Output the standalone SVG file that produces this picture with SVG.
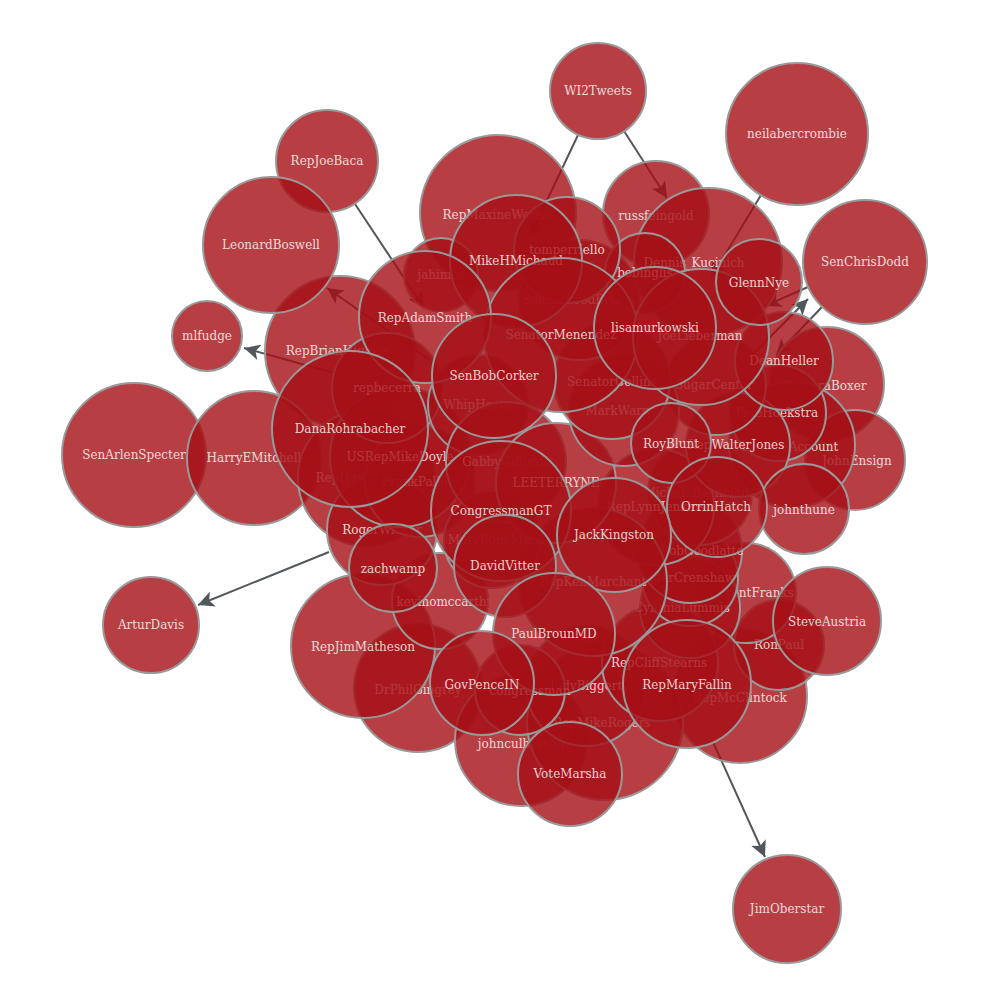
<svg xmlns="http://www.w3.org/2000/svg" width="1000" height="1000" viewBox="0 0 1000 1000">
<defs>
<style>
.node circle{fill:#a50f15;fill-opacity:.8;stroke:#999;stroke-width:2}
.node text{font-family:"DejaVu Serif",serif;font-size:12px;fill:#fff;fill-opacity:.8;text-anchor:middle}
.link{stroke:#52575b;stroke-width:2;fill:none;marker-end:url(#arrow)}
</style>
<marker id="arrow" viewBox="0 -5 10 10" refX="10" refY="0" markerWidth="8" markerHeight="8" orient="auto">
<path d="M0,-5L10,0L0,5L2.5,0Z" fill="#52575b"/>
</marker>
</defs>
<rect width="1000" height="1000" fill="#fff"/>
<g id="links">
<line class="link" x1="624" y1="131" x2="667" y2="198"/>
<line class="link" x1="578" y1="135" x2="530" y2="236"/>
<line class="link" x1="761" y1="195" x2="711" y2="278"/>
<line class="link" x1="752" y1="355" x2="808" y2="299"/>
<line class="link" x1="808" y1="287" x2="765" y2="306"/>
<line class="link" x1="822" y1="307" x2="776" y2="355"/>
<line class="link" x1="355" y1="204" x2="424" y2="308"/>
<line class="link" x1="430" y1="360" x2="327" y2="288"/>
<line class="link" x1="334" y1="373" x2="244" y2="348"/>
<line class="link" x1="329" y1="552" x2="198" y2="605"/>
<line class="link" x1="713" y1="742" x2="765" y2="857"/>
</g>
<g id="n-RepJoeBaca" class="node"><circle cx="327" cy="161" r="51"/><text x="327" y="165">RepJoeBaca</text></g>
<g id="n-RepBrianHiggins" class="node"><circle cx="340" cy="351" r="75"/><text x="338" y="355">RepBrianHiggins</text></g>
<g id="n-LeonardBoswell" class="node"><circle cx="271" cy="245" r="68"/><text x="271" y="249">LeonardBoswell</text></g>
<g id="n-mlfudge" class="node"><circle cx="207" cy="336" r="35"/><text x="207" y="340">mlfudge</text></g>
<g id="n-SenArlenSpecter" class="node"><circle cx="134" cy="455" r="72"/><text x="134" y="459">SenArlenSpecter</text></g>
<g id="n-HarryEMitchell" class="node"><circle cx="254" cy="458" r="67"/><text x="254" y="462">HarryEMitchell</text></g>
<g id="n-ArturDavis" class="node"><circle cx="151" cy="625" r="48"/><text x="151" y="629">ArturDavis</text></g>
<g id="n-WI2Tweets" class="node"><circle cx="598" cy="91" r="48"/><text x="598" y="95">WI2Tweets</text></g>
<g id="n-neilabercrombie" class="node"><circle cx="797" cy="134" r="71"/><text x="797" y="138">neilabercrombie</text></g>
<g id="n-SenChrisDodd" class="node"><circle cx="865" cy="262" r="62"/><text x="865" y="266">SenChrisDodd</text></g>
<g id="n-JimOberstar" class="node"><circle cx="787" cy="909" r="54"/><text x="787" y="913">JimOberstar</text></g>
<g id="n-RepMaxineWaters" class="node"><circle cx="498" cy="213" r="78"/><text x="498" y="219">RepMaxineWaters</text></g>
<g id="n-russfeingold" class="node"><circle cx="656" cy="214" r="53"/><text x="656" y="220">russfeingold</text></g>
<g id="n-Dennis_Kucinich" class="node"><circle cx="708" cy="262" r="74"/><text x="694" y="267">Dennis_Kucinich</text></g>
<g id="n-BarbaraBoxer" class="node"><circle cx="827" cy="384" r="57"/><text x="824" y="390">BarbaraBoxer</text></g>
<g id="n-JohnEnsign" class="node"><circle cx="855" cy="460" r="50"/><text x="857" y="465">JohnEnsign</text></g>
<g id="n-RepMcClintock" class="node"><circle cx="740" cy="696" r="67"/><text x="740" y="702">RepMcClintock</text></g>
<g id="n-DrPhilGingrey" class="node"><circle cx="418" cy="688" r="64"/><text x="418" y="694">DrPhilGingrey</text></g>
<g id="n-johnculberson" class="node"><circle cx="521" cy="740" r="66"/><text x="521" y="748">johnculberson</text></g>
<g id="n-RepJimMatheson" class="node"><circle cx="363" cy="646" r="72"/><text x="363" y="651">RepJimMatheson</text></g>
<g id="n-jahimes" class="node"><circle cx="441" cy="275" r="37"/><text x="441" y="279">jahimes</text></g>
<g id="n-RepMikeRogers" class="node"><circle cx="605" cy="722" r="78"/><text x="602" y="727">RepMikeRogers</text></g>
<g id="n-JudyBiggert" class="node"><circle cx="586" cy="686" r="60"/><text x="586" y="690">JudyBiggert</text></g>
<g id="n-congressman" class="node"><circle cx="520" cy="690" r="45"/><text x="530" y="695">congressman</text></g>
<g id="n-RepCliffStearns" class="node"><circle cx="660" cy="663" r="58"/><text x="659" y="667">RepCliffStearns</text></g>
<g id="n-RonPaul" class="node"><circle cx="779" cy="645" r="45"/><text x="779" y="649">RonPaul</text></g>
<g id="n-RepTrentFranks" class="node"><circle cx="746" cy="593" r="50"/><text x="744" y="597">RepTrentFranks</text></g>
<g id="n-CynthiaLummis" class="node"><circle cx="690" cy="608" r="50"/><text x="682" y="612">CynthiaLummis</text></g>
<g id="n-AnderCrenshaw" class="node"><circle cx="690" cy="578" r="48"/><text x="686" y="582">AnderCrenshaw</text></g>
<g id="n-RepBobGoodlatte" class="node"><circle cx="690" cy="551" r="52"/><text x="690" y="555">RepBobGoodlatte</text></g>
<g id="n-MicheleBachmann" class="node"><circle cx="700" cy="493" r="52"/><text x="700" y="497">MicheleBachmann</text></g>
<g id="n-RepLynnJenkins" class="node"><circle cx="656" cy="507" r="58"/><text x="656" y="511">RepLynnJenkins</text></g>
<g id="n-RepKenMarchant" class="node"><circle cx="593" cy="582" r="74"/><text x="593" y="586">RepKenMarchant</text></g>
<g id="n-kevinomccarthy" class="node"><circle cx="440" cy="601" r="48"/><text x="445" y="606">kevinomccarthy</text></g>
<g id="n-RepHankJohnson" class="node"><circle cx="366" cy="478" r="68"/><text x="368" y="482">RepHankJohnson</text></g>
<g id="n-RogerWicker" class="node"><circle cx="382" cy="530" r="55"/><text x="382" y="534">RogerWicker</text></g>
<g id="n-FrankPallone" class="node"><circle cx="420" cy="482" r="55"/><text x="422" y="486">FrankPallone</text></g>
<g id="n-MaryBonoMack" class="node"><circle cx="492" cy="540" r="48"/><text x="496" y="544">MaryBonoMack</text></g>
<g id="n-USRepMikeDoyle" class="node"><circle cx="400" cy="457" r="70"/><text x="400" y="461">USRepMikeDoyle</text></g>
<g id="n-repbecerra" class="node"><circle cx="387" cy="388" r="55"/><text x="387" y="392">repbecerra</text></g>
<g id="n-WhipHoyer" class="node"><circle cx="478" cy="405" r="50"/><text x="478" y="409">WhipHoyer</text></g>
<g id="n-GabbyGiffords" class="node"><circle cx="506" cy="462" r="60"/><text x="506" y="466">GabbyGiffords</text></g>
<g id="n-LEETERRYNE" class="node"><circle cx="556" cy="483" r="60"/><text x="556" y="487">LEETERRYNE</text></g>
<g id="n-RestoreAccount" class="node"><circle cx="792" cy="445" r="63"/><text x="790" y="451">RestoreAccount</text></g>
<g id="n-PeteHoekstra" class="node"><circle cx="778" cy="413" r="48"/><text x="777" y="417">PeteHoekstra</text></g>
<g id="n-RepWalterJones" class="node"><circle cx="738" cy="445" r="52"/><text x="736" y="449">RepWalterJones</text></g>
<g id="n-SugarCenter" class="node"><circle cx="716" cy="385" r="50"/><text x="714" y="389">SugarCenter</text></g>
<g id="n-MarkWarner" class="node"><circle cx="624" cy="411" r="55"/><text x="624" y="415">MarkWarner</text></g>
<g id="n-SenatorCollins" class="node"><circle cx="612" cy="381" r="58"/><text x="612" y="386">SenatorCollins</text></g>
<g id="n-SenSherrodBrown" class="node"><circle cx="579" cy="300" r="60"/><text x="579" y="304">SenSherrodBrown</text></g>
<g id="n-bobinglis" class="node"><circle cx="645" cy="273" r="40"/><text x="645" y="277">bobinglis</text></g>
<g id="n-tomperriello" class="node"><circle cx="567" cy="250" r="53"/><text x="567" y="254">tomperriello</text></g>
<g id="n-MikeHMichaud" class="node"><circle cx="516" cy="261" r="66"/><text x="516" y="265">MikeHMichaud</text></g>
<g id="n-SenatorMenendez" class="node"><circle cx="561" cy="335" r="77"/><text x="561" y="339">SenatorMenendez</text></g>
<g id="n-DeanHeller" class="node"><circle cx="784" cy="361" r="49"/><text x="784" y="365">DeanHeller</text></g>
<g id="n-JoeLieberman" class="node"><circle cx="701" cy="337" r="68"/><text x="700" y="340">JoeLieberman</text></g>
<g id="n-GlennNye" class="node"><circle cx="759" cy="282" r="43"/><text x="759" y="287">GlennNye</text></g>
<g id="n-lisamurkowski" class="node"><circle cx="655" cy="328" r="61"/><text x="655" y="332">lisamurkowski</text></g>
<g id="n-RepAdamSmith" class="node"><circle cx="425" cy="317" r="66"/><text x="425" y="322">RepAdamSmith</text></g>
<g id="n-SenBobCorker" class="node"><circle cx="494" cy="376" r="62"/><text x="494" y="380">SenBobCorker</text></g>
<g id="n-DanaRohrabacher" class="node"><circle cx="350" cy="429" r="78"/><text x="350" y="433">DanaRohrabacher</text></g>
<g id="n-RoyBlunt" class="node"><circle cx="671" cy="443" r="40"/><text x="671" y="448">RoyBlunt</text></g>
<g id="n-johnthune" class="node"><circle cx="804" cy="509" r="45"/><text x="804" y="514">johnthune</text></g>
<g id="n-OrrinHatch" class="node"><circle cx="717" cy="507" r="50"/><text x="716" y="511">OrrinHatch</text></g>
<g id="n-CongressmanGT" class="node"><circle cx="501" cy="511" r="70"/><text x="501" y="515">CongressmanGT</text></g>
<g id="n-JackKingston" class="node"><circle cx="614" cy="535" r="57"/><text x="614" y="539">JackKingston</text></g>
<g id="n-zachwamp" class="node"><circle cx="393" cy="568" r="44"/><text x="393" y="573">zachwamp</text></g>
<g id="n-DavidVitter" class="node"><circle cx="505" cy="566" r="51"/><text x="505" y="570">DavidVitter</text></g>
<g id="n-PaulBrounMD" class="node"><circle cx="554" cy="634" r="61"/><text x="554" y="638">PaulBrounMD</text></g>
<g id="n-GovPenceIN" class="node"><circle cx="482" cy="683" r="52"/><text x="482" y="689">GovPenceIN</text></g>
<g id="n-RepMaryFallin" class="node"><circle cx="687" cy="684" r="64"/><text x="687" y="689">RepMaryFallin</text></g>
<g id="n-VoteMarsha" class="node"><circle cx="570" cy="774" r="52"/><text x="570" y="778">VoteMarsha</text></g>
<g id="n-SteveAustria" class="node"><circle cx="827" cy="621" r="54"/><text x="827" y="626">SteveAustria</text></g>
</svg>
